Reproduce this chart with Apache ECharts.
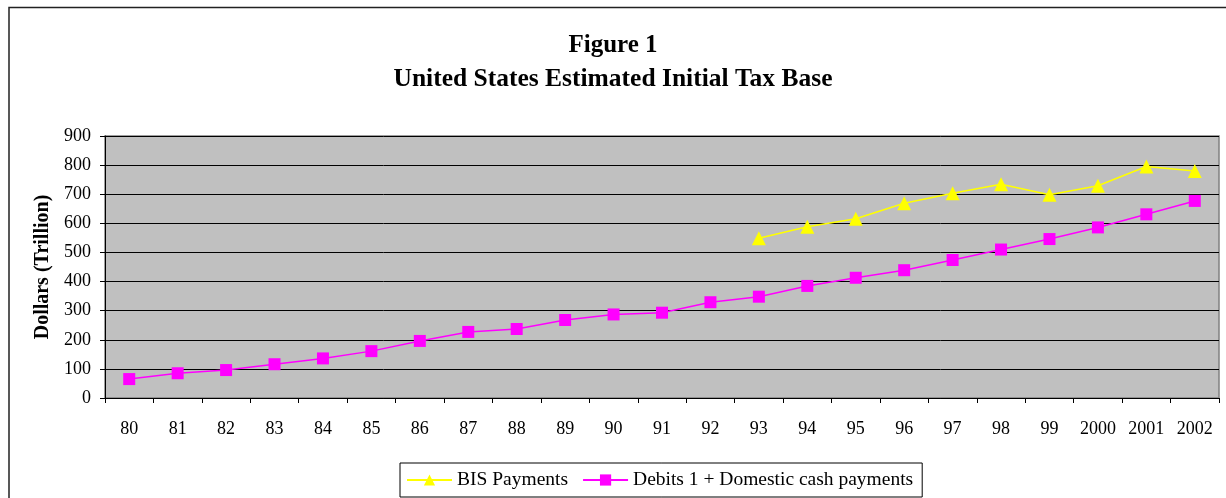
<!DOCTYPE html>
<html>
<head>
<meta charset="utf-8">
<script src="https://cdn.jsdelivr.net/npm/echarts@6/dist/echarts.min.js"></script>
<style>
html, body { margin: 0; padding: 0; background: #fff; }
#chart { width: 1226px; height: 498px; }
</style>
</head>
<body>
<div id="chart"></div>
<script>
// 年份（横轴）
const years = ['80', '81', '82', '83', '84', '85', '86', '87', '88', '89', '90', '91',
  '92', '93', '94', '95', '96', '97', '98', '99', '2000', '2001', '2002']
// BIS Payments，93 年起才有数据
const bisPayments = [null, null, null, null, null, null, null, null, null, null, null, null,
  null, 549, 588, 616, 669, 703, 734, 698, 729, 795, 780]
// Debits 1 + Domestic cash payments
const debitsCash = [65, 85, 96, 116, 136, 161, 196, 227, 237, 268, 287, 293,
  329, 348, 385, 413, 439, 474, 510, 546, 586, 631, 677]
const yTicks = { min: 0, max: 900, interval: 100 }

const serif = '"Liberation Serif", "DejaVu Serif", serif'
const chart = echarts.init(document.getElementById('chart'))

chart.setOption({
  animation: false,
  backgroundColor: '#fff',
  textStyle: { fontFamily: serif },
  title: [
    {
      text: 'Figure 1',
      left: 'center',
      top: 28,
      textStyle: { fontFamily: serif, fontSize: 25, fontWeight: 'bold', color: '#000' }
    },
    {
      text: 'United States Estimated Initial Tax Base',
      left: 'center',
      top: 61,
      textStyle: { fontFamily: serif, fontSize: 25.5, fontWeight: 'bold', color: '#000' }
    }
  ],
  graphic: [
    { // 外框，只露出左边和上边
      type: 'rect',
      shape: { x: 9, y: 7.5, width: 1400, height: 700 },
      style: { fill: null, stroke: '#222', lineWidth: 1.5 },
      silent: true
    }
  ],
  grid: {
    left: 105,
    right: 7,
    top: 136,
    bottom: 100,
    show: true,
    backgroundColor: '#c0c0c0',
    borderColor: '#808080',
    borderWidth: 1.5
  },
  legend: {
    left: 400,
    top: 463,
    itemGap: 14,
    itemWidth: 45,
    itemHeight: 14,
    padding: [7, 9, 7, 6],
    borderColor: '#000',
    borderWidth: 1,
    textStyle: { fontFamily: serif, fontSize: 19.5, color: '#000' },
    data: ['BIS Payments', 'Debits 1 + Domestic cash payments']
  },
  xAxis: {
    type: 'category',
    data: years,
    boundaryGap: true,
    axisLine: { lineStyle: { color: '#000', width: 1 } },
    axisTick: { show: true, alignWithLabel: false, length: 5, lineStyle: { color: '#000' } },
    axisLabel: { fontFamily: serif, fontSize: 18, color: '#000', margin: 22, interval: 0 },
    splitLine: { show: false }
  },
  yAxis: {
    type: 'value',
    min: yTicks.min,
    max: yTicks.max,
    interval: yTicks.interval,
    name: 'Dollars (Trillion)',
    nameLocation: 'middle',
    nameGap: 50,
    nameTextStyle: { fontFamily: serif, fontSize: 20, fontWeight: 'bold', color: '#000' },
    axisLine: { show: true, lineStyle: { color: '#000', width: 1 } },
    axisTick: { show: true, length: 5, lineStyle: { color: '#000' } },
    axisLabel: { fontFamily: serif, fontSize: 18, color: '#000', margin: 14 },
    splitLine: { show: true, lineStyle: { color: '#000', width: 1 } }
  },
  series: [
    {
      name: 'BIS Payments',
      type: 'line',
      data: bisPayments,
      symbol: 'triangle',
      symbolSize: 14,
      connectNulls: false,
      itemStyle: { color: '#ffff00' },
      lineStyle: { color: '#ffff00', width: 1.5 }
    },
    {
      name: 'Debits 1 + Domestic cash payments',
      type: 'line',
      data: debitsCash,
      symbol: 'rect',
      symbolSize: 12,
      itemStyle: { color: '#ff00ff' },
      lineStyle: { color: '#ff00ff', width: 1.5 }
    }
  ]
})
</script>
</body>
</html>
